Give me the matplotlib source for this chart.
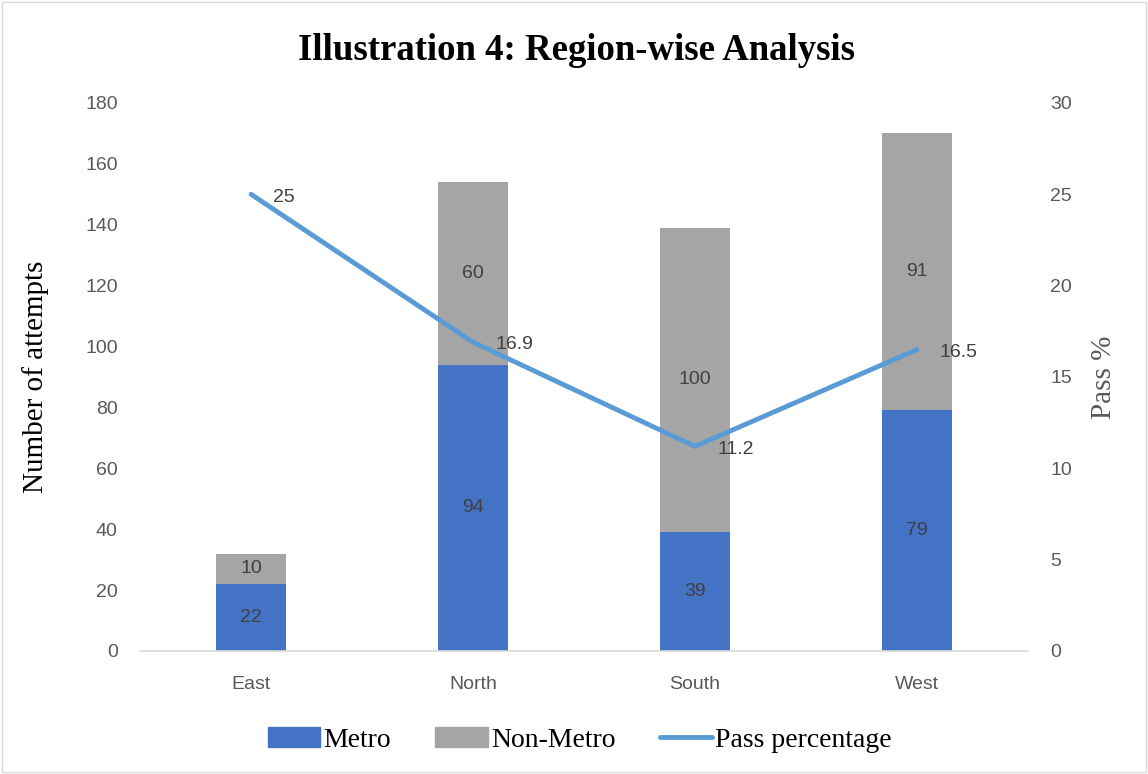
import matplotlib.pyplot as plt
import matplotlib.patches as mpatches
from matplotlib.lines import Line2D

regions = ['East', 'North', 'South', 'West']
metro = [22, 94, 39, 79]
non_metro = [10, 60, 100, 91]
pass_pct = [25, 16.9, 11.2, 16.5]

blue = '#4472C4'
gray = '#A5A5A5'
line_blue = '#5B9BD5'
tick_gray = '#595959'
label_gray = '#404040'

fig = plt.figure(figsize=(11.48, 7.74), dpi=100)
ax = fig.add_axes([0.122, 0.159, 0.7735, 0.708])
ax2 = ax.twinx()

x = list(range(len(regions)))
w = 0.315
ax.bar(x, metro, width=w, color=blue, zorder=2)
ax.bar(x, non_metro, width=w, bottom=metro, color=gray, zorder=2)

for i in x:
    ax.text(i, metro[i] / 2, str(metro[i]), ha='center', va='center',
            fontsize=14, color=label_gray, family='Liberation Sans')
    ax.text(i, metro[i] + non_metro[i] / 2, str(non_metro[i]), ha='center', va='center',
            fontsize=14, color=label_gray, family='Liberation Sans')

ax2.plot(x, pass_pct, color=line_blue, linewidth=3.5, solid_capstyle='round', zorder=3)
for i in x:
    ax2.text(i + 0.1, pass_pct[i] - 0.15, '%g' % pass_pct[i], ha='left', va='center',
             fontsize=14, color=label_gray, family='Liberation Sans')

ax.set_xlim(-0.5, 3.5)
ax.set_ylim(0, 180)
ax.set_yticks(range(0, 181, 20))
ax2.set_ylim(0, 30)
ax2.set_yticks(range(0, 31, 5))
ax.set_xticks(x)
ax.set_xticklabels(regions)

for a in (ax, ax2):
    for s in a.spines.values():
        s.set_visible(False)
    a.tick_params(length=0, labelsize=14, colors=tick_gray)
    for lab in a.get_xticklabels() + a.get_yticklabels():
        lab.set_family('Liberation Sans')
ax.spines['bottom'].set_visible(True)
ax.spines['bottom'].set_color('#D9D9D9')
ax.spines['bottom'].set_linewidth(1.2)
ax.tick_params(axis='x', pad=18)
ax.tick_params(axis='y', pad=16)
ax2.tick_params(axis='y', pad=16)

ax.set_ylabel('Number of attempts', family='Liberation Serif', fontsize=21, labelpad=26)
ax2.set_ylabel('Pass %', family='Liberation Serif', fontsize=21, color=tick_gray, labelpad=14)

fig.text(0.502, 0.935, 'Illustration 4: Region-wise Analysis', ha='center', va='center',
         family='Liberation Serif', fontsize=26.5, fontweight='bold')

handles = [mpatches.Patch(color=blue, label='Metro'),
           mpatches.Patch(color=gray, label='Non-Metro'),
           Line2D([0], [0], color=line_blue, linewidth=3.5, solid_capstyle='round',
                  label='Pass percentage')]
fig.legend(handles=handles, loc='center', bbox_to_anchor=(0.505, 0.044), ncol=3,
           frameon=False, prop={'family': 'Liberation Serif', 'size': 20},
           handlelength=1.9, handletextpad=0.1, columnspacing=1.6)

fig.patches.append(mpatches.Rectangle((0.002, 0.002), 0.996, 0.996, transform=fig.transFigure,
                                      fill=False, edgecolor='#D9D9D9', linewidth=1))

fig.savefig('out.png', dpi=100)
